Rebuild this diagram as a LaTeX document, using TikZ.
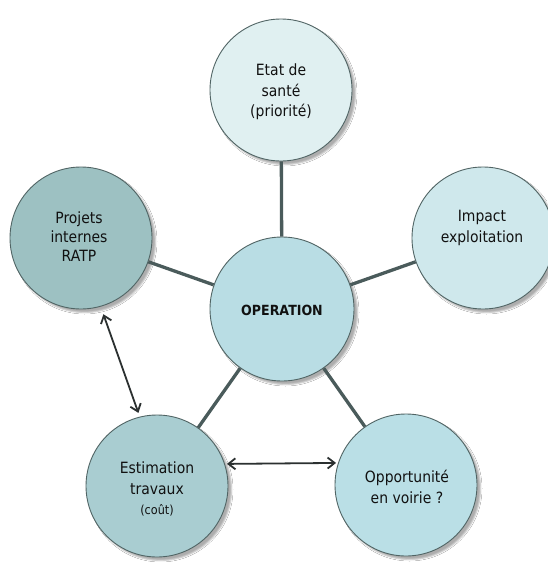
\documentclass[tikz,border=0pt]{standalone}
\usepackage{fontspec}
\setmainfont{DejaVu Sans}[FakeStretch=0.9]
\usetikzlibrary{shadows.blur,arrows.meta,calc}
\definecolor{cT}{HTML}{E0F0F1}
\definecolor{cR}{HTML}{CFE8EC}
\definecolor{cC}{HTML}{B9DDE4}
\definecolor{cL}{HTML}{9DC1C2}
\definecolor{cBL}{HTML}{A9CDD1}
\definecolor{cBR}{HTML}{BADFE6}
\definecolor{bord}{HTML}{506464}
\definecolor{link}{HTML}{4A5B5B}
\definecolor{arr}{HTML}{2B3030}
\definecolor{txtc}{HTML}{111111}
\tikzset{
  bubble/.style={circle,draw=bord,line width=0.9pt,minimum size=142pt,inner sep=0pt,
    blur shadow={shadow xshift=3.5pt,shadow yshift=-3.5pt,shadow blur steps=3,shadow blur radius=1.5pt,shadow opacity=32}},
  txt/.style={align=center,text=txtc,font=\fontsize{15.5}{20.5}\selectfont,inner sep=0pt},
  spoke/.style={draw=link,line width=3.3pt},
  dbl/.style={draw=arr,line width=1.8pt,{Straight Barb[length=7pt,width=11pt]}-{Straight Barb[length=7pt,width=11pt]}}
}
\begin{document}
\begin{tikzpicture}[x=1pt,y=1pt]
\useasboundingbox (0,0) rectangle (547,-562);
\fill[white] (0,0) rectangle (547,-562);
% circles
\node[bubble,fill=cT] (T) at (281,-90) {};
\node[bubble,fill=cL] (L) at (81,-238) {};
\node[bubble,fill=cR] (R) at (483,-238) {};
\node[bubble,fill=cC,minimum size=144pt] (C) at (282,-309) {};
\node[bubble,fill=cBL] (BL) at (157,-486) {};
\node[bubble,fill=cBR] (BR) at (406,-485) {};
% spokes
\draw[spoke] (T) -- (C);
\draw[spoke] (L) -- (C);
\draw[spoke] (R) -- (C);
\draw[spoke] (BL) -- (C);
\draw[spoke] (BR) -- (C);
% double arrows
\draw[dbl,shorten <=8pt,shorten >=4pt] (L.-74) -- (BL.104);
\draw[dbl,shorten <=2pt,shorten >=2pt] (BL.18) -- (BR.162);
% texts
\node[txt] (Tt) at ($(T)+(0,-2)$) {Etat de\\santé\\(priorité)};
\node[txt,font=\fontsize{15.5}{19}\selectfont] (Lt) at ($(L)+(-2,1)$) {Projets\\internes\\RATP};
\node[txt] (Rt) at ($(R)+(-1,10)$) {Impact\\exploitation};
\node[txt,font=\bfseries\fontsize{14}{18}\selectfont] (Ct) at ($(C)+(0,-1)$) {OPERATION};
\node[txt] (BLt) at ($(BL)+(0,-3)$) {Estimation\\travaux\\{\fontsize{12.5}{16}\selectfont(coût)}};
\node[txt] (BRt) at ($(BR)+(1,-2)$) {Opportunité\\en voirie ?};
\end{tikzpicture}
\end{document}
